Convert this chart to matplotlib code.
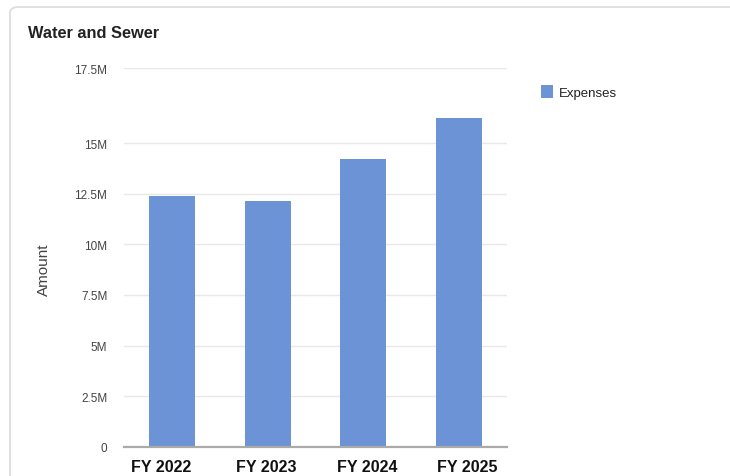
import matplotlib
matplotlib.use("Agg")
import matplotlib.pyplot as plt
import matplotlib.transforms as mtransforms
from matplotlib.patches import FancyBboxPatch

plt.rcParams['font.family'] = ['Liberation Sans', 'DejaVu Sans']

# expenses by fiscal year, in millions
years = ['FY 2022', 'FY 2023', 'FY 2024', 'FY 2025']
expenses = [12.38, 12.16, 14.22, 16.23]

tick_vals = [0, 2.5, 5, 7.5, 10, 12.5, 15]
tick_labels = ['0', '2.5M', '5M', '7.5M', '10M', '12.5M', '15M']
top_val = 18.72
top_label = '17.5M'

bar_color = '#6b93d6'
text_gray = '#444444'

fig = plt.figure(figsize=(7.3, 4.77), dpi=100)

# card outline
card = FancyBboxPatch((10 / 730, -0.05), 1.5, 1.05 - 8 / 477,
                      boxstyle='round,pad=0,rounding_size=0.012',
                      transform=fig.transFigure, facecolor='none',
                      edgecolor='#dddddd', linewidth=1.3, clip_on=False,
                      zorder=-5)
fig.patches.append(card)

fig.text(28 / 730, 1 - 33 / 477, 'Water and Sewer', fontsize=11.8,
         fontweight='bold', color='#222222', va='center', ha='left')

ax = fig.add_axes([124 / 730, 1 - 447.7 / 477, 383 / 730, 378.7 / 477])
ax.set_facecolor('none')

x = list(range(len(years)))
ax.bar(x, expenses, width=0.48, color=bar_color, edgecolor='none', zorder=3,
       label='Expenses')

ax.set_xlim(-0.5, len(years) - 0.5)
ax.set_ylim(0, top_val)
ax.set_yticks(tick_vals + [top_val])
ax.set_yticklabels(tick_labels + [top_label])
ax.set_xticks(x)
ax.set_xticklabels([])

# category labels, spread a little wider than the bars
shifts = [-11, -1, 4, 8]
base = mtransforms.blended_transform_factory(ax.transData, ax.transAxes)
for xi, name, dx in zip(x, years, shifts):
    tr = mtransforms.offset_copy(base, fig=fig, x=dx, y=-20, units='dots')
    ax.text(xi, 0, name, transform=tr, ha='center', va='center',
            fontsize=11.5, fontweight='bold', color='#111111')

ax.grid(axis='y', color='#e8e8e8', linewidth=1.0, zorder=0)
ax.tick_params(axis='y', length=0, pad=12, labelsize=8.5, labelcolor=text_gray)
ax.tick_params(axis='x', length=0)
for s in ['top', 'right', 'left']:
    ax.spines[s].set_visible(False)
ax.spines['bottom'].set_color('#aaaaaa')
ax.spines['bottom'].set_linewidth(1.6)
ax.spines['bottom'].set_zorder(4)

ax.set_ylabel('Amount', fontsize=11, color=text_gray)
ax.yaxis.set_label_coords(-0.19, 0.47)

fig.legend(loc='upper left', bbox_to_anchor=(534 / 730, 1 - 79 / 477),
           frameon=False, fontsize=9.5, handlelength=0.95, handleheight=1.2,
           handletextpad=0.4, borderpad=0, labelcolor='#222222')

fig.savefig('out.png', dpi=100)
